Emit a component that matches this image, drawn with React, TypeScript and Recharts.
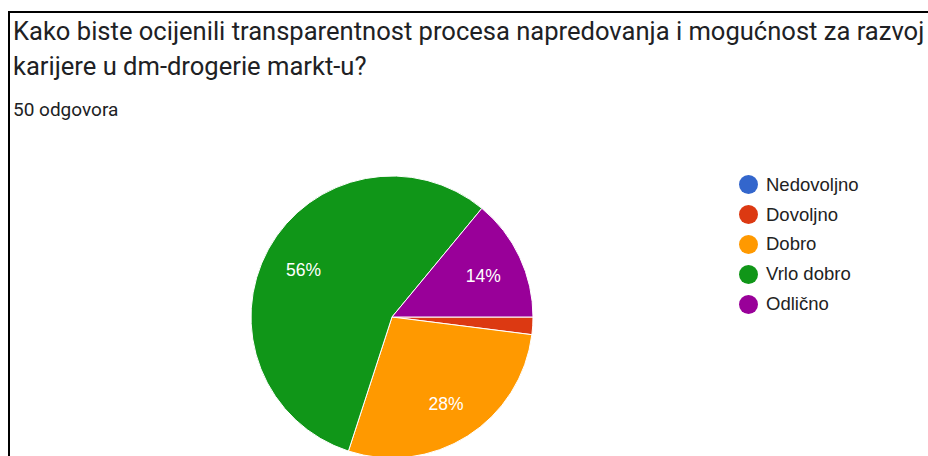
import { PieChart, Pie, Cell, Legend } from "recharts";

const categories = ["Nedovoljno", "Dovoljno", "Dobro", "Vrlo dobro", "Odlično"];
const responses = [0, 1, 14, 28, 7];
const colors = ["#3366cc", "#dc3912", "#ff9900", "#109618", "#990099"];

const titleLines = [
  "Kako biste ocijenili transparentnost procesa napredovanja i mogućnost za razvoj",
  "karijere u dm-drogerie markt-u?",
];
const subtitle = "50 odgovora";

const data = categories.map((name, i) => ({ name, value: responses[i] }));

const RAD = Math.PI / 180;

function renderLabel(props: any) {
  const { cx, cy, midAngle, percent } = props;
  if (percent < 0.05) return null;
  const r = 101;
  const x = cx + r * Math.cos(-midAngle * RAD);
  const y = cy + r * Math.sin(-midAngle * RAD) + 2;
  return (
    <text
      x={x}
      y={y}
      fill="#ffffff"
      textAnchor="middle"
      dominantBaseline="central"
      style={{ fontFamily: "Arial, 'Liberation Sans', sans-serif", fontSize: 17.5 }}
    >
      {`${Math.round(percent * 100)}%`}
    </text>
  );
}

function LegendList() {
  return (
    <div>
      {categories.map((c, i) => (
        <div key={c} style={{ display: "flex", alignItems: "center", height: 29.8 }}>
          <span
            style={{
              width: 19,
              height: 19,
              borderRadius: "50%",
              background: colors[i],
              display: "inline-block",
              marginRight: 8,
            }}
          />
          <span style={{ fontFamily: "Arial, 'Liberation Sans', sans-serif", fontSize: 18.5, color: "#222222" }}>
            {c}
          </span>
        </div>
      ))}
    </div>
  );
}

export default function App() {
  return (
    <div style={{ position: "absolute", left: 0, top: 0, width: 928, height: 456, overflow: "hidden", background: "#fff" }}>
      <div
        style={{
          position: "absolute",
          left: 8,
          top: 11,
          width: 940,
          height: 460,
          borderTop: "2.5px solid #000",
          borderLeft: "2.5px solid #000",
        }}
      />
      <div
        style={{
          position: "absolute",
          left: 13,
          top: 14,
          fontFamily: "Roboto, sans-serif",
          fontSize: 25.55,
          lineHeight: "35px",
          color: "#202124",
          whiteSpace: "nowrap",
        }}
      >
        {titleLines.map((t) => (
          <div key={t}>{t}</div>
        ))}
      </div>
      <div
        style={{
          position: "absolute",
          left: 13,
          top: 98,
          fontFamily: "Roboto, sans-serif",
          fontSize: 19,
          color: "#202124",
          whiteSpace: "nowrap",
        }}
      >
        {subtitle}
      </div>
      <div style={{ position: "absolute", left: 0, top: 0 }}>
        <PieChart width={928} height={456} margin={{ top: 0, right: 0, bottom: 0, left: 0 }}>
          <Pie
            data={data}
            dataKey="value"
            nameKey="name"
            cx={392}
            cy={317}
            outerRadius={141}
            startAngle={0}
            endAngle={-360}
            stroke="#ffffff"
            strokeWidth={1}
            label={renderLabel}
            labelLine={false}
            isAnimationActive={false}
          >
            {data.map((d, i) => (
              <Cell key={d.name} fill={colors[i]} />
            ))}
          </Pie>
          <Legend
            layout="vertical"
            content={() => <LegendList />}
            wrapperStyle={{ left: 739, top: 170, width: 180 }}
          />
        </PieChart>
      </div>
    </div>
  );
}
